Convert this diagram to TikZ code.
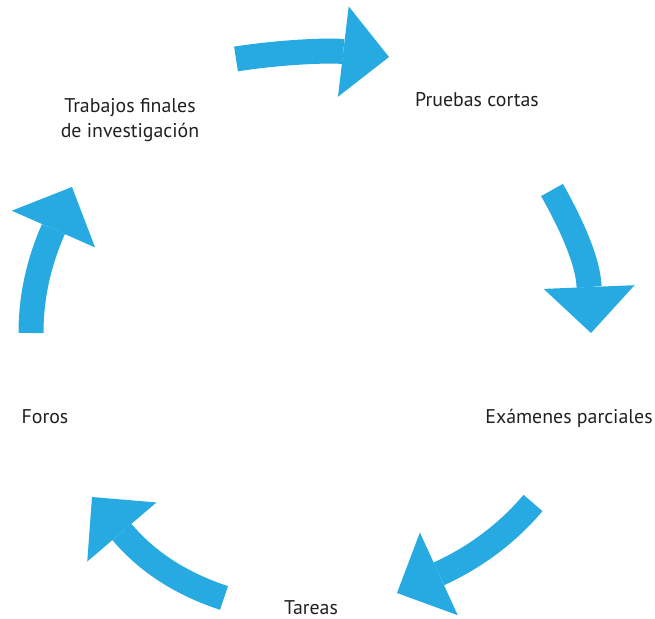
\documentclass[tikz,border=0pt]{standalone}
\usepackage{fontspec}
\setmainfont{PT Sans}
\usepackage{tikz}
\usetikzlibrary{arrows.meta}
\definecolor{cyclo}{HTML}{27AAE1}
\definecolor{texto}{HTML}{231F20}
\tikzset{
	lbl/.style={text=texto, font=\fontsize{11.3}{14.7}\selectfont, inner sep=0pt},
	band/.style={draw=cyclo, line width=0.5cm, line cap=butt,
		-{Triangle[width=1.82cm, length=0.92cm, line width=0pt]}}
}

\begin{document}
\begin{tikzpicture}[x=0.02cm, y=-0.02cm]
		\useasboundingbox (0,0) rectangle (655,618);
		
		\node [lbl, align=center] (tf) at (130,120) {Trabajos finales\\de investigación};
		\node [lbl, anchor=base] (pc) at (477,107) {Pruebas cortas};
		\node [lbl, anchor=base] (ep) at (569,423) {Exámenes parciales};
		\node [lbl, anchor=base] (ta) at (311,614) {Tareas};
		\node [lbl, anchor=base] (fo) at (45,423) {Foros};
		
		\coordinate (a1) at (236,59);  \coordinate (b1) at (389,57);
		\coordinate (a2) at (552,190); \coordinate (b2) at (591,333);
		\coordinate (a3) at (533,503); \coordinate (b3) at (397,593);
		\coordinate (a4) at (224,598); \coordinate (b4) at (92,497);
		\coordinate (a5) at (31,333);  \coordinate (b5) at (72,187);
		
		\draw[band] (a1) .. controls (280,52) and (330,50) .. (b1);
		\draw[band] (a2) .. controls (570,222) and (588,260) .. (b2);
		\draw[band] (a3) .. controls (510,530) and (480,555) .. (b3);
		\draw[band] (a4) .. controls (185,585) and (150,565) .. (b4);
		\draw[band] (a5) .. controls (31,290) and (42,255) .. (b5);
	\end{tikzpicture}
\end{document}
